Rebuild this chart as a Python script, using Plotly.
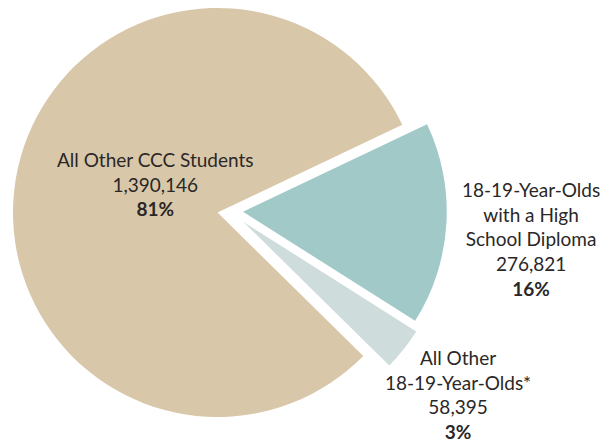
import plotly.graph_objects as go

# ---- data ----
labels = ["18-19-Year-Olds with a High School Diploma",
          "All Other 18-19-Year-Olds*",
          "All Other CCC Students"]
label_lines = ["18-19-Year-Olds<br>with a High<br>School Diploma",
               "All Other<br>18-19-Year-Olds*",
               "All Other CCC Students"]
values = [276821, 58395, 1390146]
percents = [16, 3, 81]
colors = ["#a1c9c8", "#cedcdc", "#d9c7aa"]

W, H = 616, 443
OFF = 8  # page body margin in the rendered html
# pie layout (pixel centres of each drawn slice; slices offset to look "exploded")
R = 204.5
centers = [(243.0, 211.0), (243.5, 222.0), (217.5, 212.5)]
label_pos = [(531, 238.5), (458, 394.0), (155, 184)]

fig = go.Figure()
for i in range(len(values)):
    cx, cy = centers[i][0] - OFF, centers[i][1] - OFF
    cols = ["rgba(0,0,0,0)"] * len(values)
    cols[i] = colors[i]
    fig.add_trace(go.Pie(
        labels=labels, values=values, sort=False,
        direction="clockwise", rotation=64.6,
        marker=dict(colors=cols, line=dict(width=0)),
        textinfo="none", hoverinfo="label+value+percent",
        showlegend=False,
        domain=dict(x=[max(0, (cx - R) / W), (cx + R) / W],
                    y=[(H - cy - R) / H, min(1, (H - cy + R) / H)]),
    ))

for i in range(len(values)):
    x, y = label_pos[i][0] - OFF, label_pos[i][1] - OFF
    fig.add_annotation(
        x=x / W, y=1 - y / H, xref="paper", yref="paper",
        xanchor="center", yanchor="middle", align="center",
        showarrow=False,
        text=f"{label_lines[i]}<br>{values[i]:,}<br><b>{percents[i]}%</b>",
        font=dict(family="Lato", size=19, color="#2a2727"),
    )

fig.update_layout(
    width=W, height=H,
    margin=dict(l=0, r=0, t=0, b=0, pad=0),
    paper_bgcolor="white", plot_bgcolor="white",
)
fig.write_html("out.html")
